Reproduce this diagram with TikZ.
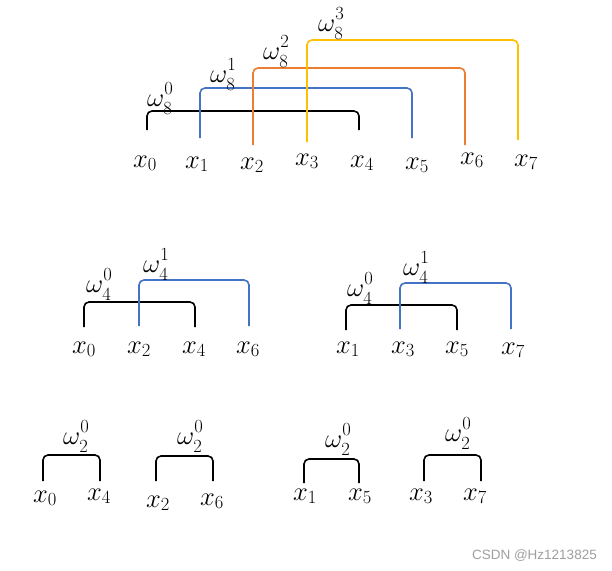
\RequirePackage{fix-cm}
\documentclass[tikz,border=0pt]{standalone}
\usepackage{fontspec}
\usepackage{tikz}
\usetikzlibrary{positioning}
\newfontfamily\wmfont{Liberation Sans}
\definecolor{fftblue}{RGB}{68,114,196}
\definecolor{fftorange}{RGB}{237,125,49}
\definecolor{fftyellow}{RGB}{255,192,0}
% twiddle factor with sub and sup kept apart
\newcommand{\twf}[2]{\omega_{\lower1.5pt\hbox{$\scriptstyle #1$}}^{\raise1.5pt\hbox{$\scriptstyle #2$}}}

\begin{document}
\begin{tikzpicture}[x=1pt, y=-1pt, font=\fontsize{26.5}{29}\selectfont,
 xlab/.style={anchor=base, inner sep=0pt},
 wlab/.style={anchor=base west, inner sep=0pt},
 bk/.style={line width=1.6pt, rounded corners=5pt}]
 \useasboundingbox (0,0) rectangle (612,570);
 % stage N=8
 \node[xlab] (a0) at (145,167){$x_0$};
 \node[xlab] (a1) at (197,168){$x_1$};
 \node[xlab] (a2) at (252,169){$x_2$};
 \node[xlab] (a3) at (307,165){$x_3$};
 \node[xlab] (a4) at (362,167){$x_4$};
 \node[xlab] (a5) at (417,169){$x_5$};
 \node[xlab] (a6) at (472,164){$x_6$};
 \node[xlab] (a7) at (526,166){$x_7$};
 \coordinate (fa0) at (147,130); \coordinate (fa4) at (359,130);
 \coordinate (fa1) at (200,138); \coordinate (fa5) at (412,138);
 \coordinate (fa2) at (253,145); \coordinate (fa6) at (465,145);
 \coordinate (fa3) at (307,142); \coordinate (fa7) at (518,140);
 \draw[bk] (fa0) -- ++(0,-19) -| (fa4);
 \draw[bk, fftblue] (fa1) -- ++(0,-50) -| (fa5);
 \draw[bk, fftorange] (fa2) -- ++(0,-77) -| (fa6);
 \draw[bk, fftyellow] (fa3) -- ++(0,-102) -| (fa7);
 \node[wlab] (wa0) at (147,106){$\twf{8}{0}$};
 \node[wlab] (wa1) at (210,82){$\twf{8}{1}$};
 \node[wlab] (wa2) at (263,59){$\twf{8}{2}$};
 \node[wlab] (wa3) at (318,31){$\twf{8}{3}$};
 % stage N=4, even part
 \node[xlab] (b0) at (84,353){$x_0$};
 \node[xlab] (b2) at (139,353){$x_2$};
 \node[xlab] (b4) at (194,353){$x_4$};
 \node[xlab] (b6) at (248,353){$x_6$};
 \coordinate (fb0) at (84,327); \coordinate (fb4) at (195,327);
 \coordinate (fb2) at (139,326); \coordinate (fb6) at (249,326);
 \draw[bk] (fb0) -- ++(0,-25) -| (fb4);
 \draw[bk, fftblue] (fb2) -- ++(0,-46) -| (fb6);
 \node[wlab] (wb0) at (86,292){$\twf{4}{0}$};
 \node[wlab] (wb1) at (143,272){$\twf{4}{1}$};
 % stage N=4, odd part
 \node[xlab] (c1) at (348,353){$x_1$};
 \node[xlab] (c3) at (403,353){$x_3$};
 \node[xlab] (c5) at (457,353){$x_5$};
 \node[xlab] (c7) at (513,354){$x_7$};
 \coordinate (fc1) at (346,330); \coordinate (fc5) at (457,330);
 \coordinate (fc3) at (400,329); \coordinate (fc7) at (511,329);
 \draw[bk] (fc1) -- ++(0,-25) -| (fc5);
 \draw[bk, fftblue] (fc3) -- ++(0,-46) -| (fc7);
 \node[wlab] (wc0) at (347,296){$\twf{4}{0}$};
 \node[wlab] (wc1) at (403,275){$\twf{4}{1}$};
 % stage N=2
 \node[xlab] (d0) at (45,502){$x_0$};
 \node[xlab] (d4) at (99,500){$x_4$};
 \node[xlab] (d2) at (158,507){$x_2$};
 \node[xlab] (d6) at (212,505){$x_6$};
 \node[xlab] (d1) at (305,500){$x_1$};
 \node[xlab] (d5) at (360,500){$x_5$};
 \node[xlab] (d3) at (421,500){$x_3$};
 \node[xlab] (d7) at (475,500){$x_7$};
 \coordinate (fd0) at (43,481); \coordinate (fd4) at (100,481);
 \coordinate (fd2) at (156,481); \coordinate (fd6) at (213,481);
 \coordinate (fd1) at (304,483); \coordinate (fd5) at (359,483);
 \coordinate (fd3) at (424,481); \coordinate (fd7) at (481,481);
 \draw[bk] (fd0) -- ++(0,-26) -| (fd4);
 \draw[bk] (fd2) -- ++(0,-25) -| (fd6);
 \draw[bk] (fd1) -- ++(0,-24) -| (fd5);
 \draw[bk] (fd3) -- ++(0,-26) -| (fd7);
 \node[wlab] (wd0) at (63,444){$\twf{2}{0}$};
 \node[wlab] (wd1) at (177,444){$\twf{2}{0}$};
 \node[wlab] (wd2) at (325,447){$\twf{2}{0}$};
 \node[wlab] (wd3) at (445,441){$\twf{2}{0}$};
 \node[anchor=base east, inner sep=0pt, text=gray!75, font=\wmfont\fontsize{13.5}{14}\selectfont] (wm) at (597,559){CSDN @Hz1213825};
\end{tikzpicture}
\end{document}
